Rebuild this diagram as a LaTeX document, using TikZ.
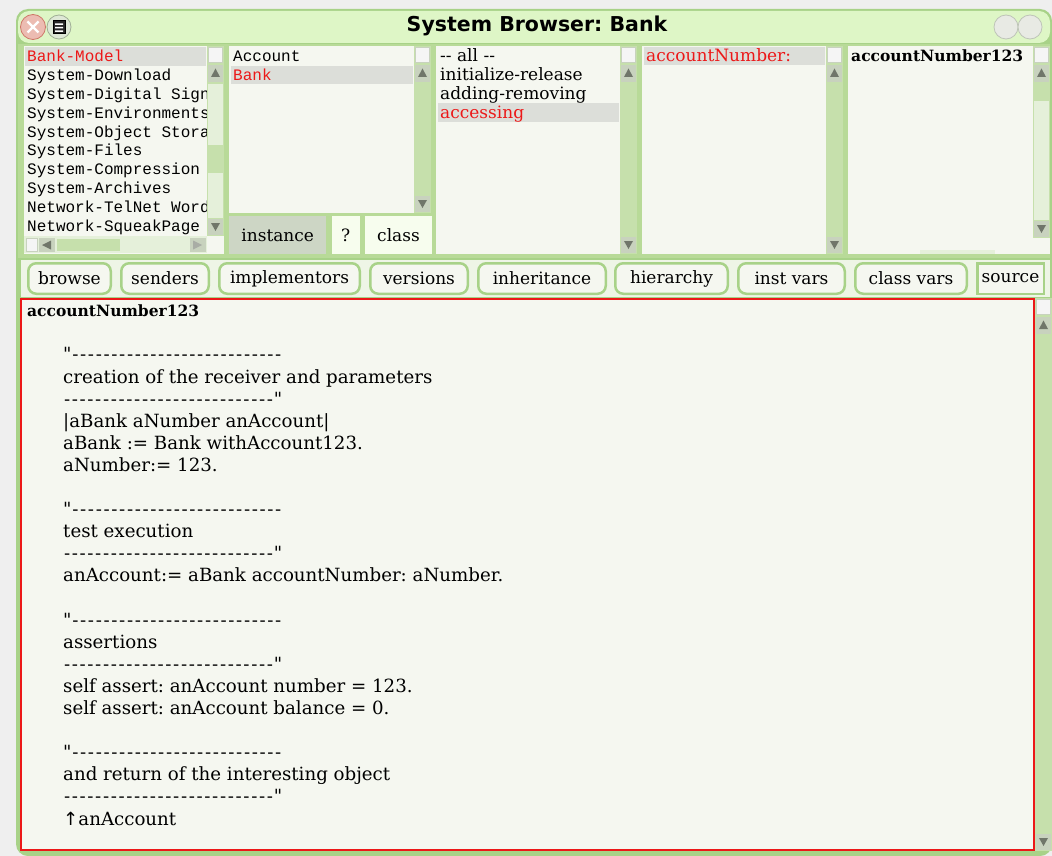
\documentclass[tikz,border=0pt]{standalone}
\usepackage{fontspec}
\usetikzlibrary{positioning}
\usepackage{xcolor}
\frenchspacing

\newfontfamily\uiface{DejaVu Serif}[Ligatures=TeXOff]
\newfontfamily\listface{Liberation Mono}
\newfontfamily\titleface{DejaVu Sans}
\newcommand{\uifont}{\uiface\fontsize{17}{19}\selectfont}
\newcommand{\codefont}{\uiface\fontsize{18.2}{22}\selectfont}
\newcommand{\boldfont}{\uiface\bfseries\fontsize{15.5}{18}\selectfont}
\newcommand{\listfont}{\listface\fontsize{16}{19}\selectfont}
% comment rule of the method source
\newcommand{\sepline}{\foreach\k in {1,...,27}{\makebox[7.8pt]{-}}}

\definecolor{outerbg}{RGB}{239,239,239}
\definecolor{framegreen}{RGB}{168,210,136}
\definecolor{titlegreen}{RGB}{222,246,198}
\definecolor{bodygreen}{RGB}{184,218,152}
\definecolor{panebg}{RGB}{245,247,240}
\definecolor{rowbg}{RGB}{238,245,230}
\definecolor{selgray}{RGB}{220,222,217}
\definecolor{bargreen}{RGB}{198,224,172}
\definecolor{trackgreen}{RGB}{229,240,218}
\definecolor{arrowbox}{RGB}{200,210,190}
\definecolor{arrowdark}{RGB}{112,118,106}
\definecolor{btngray}{RGB}{205,214,197}
\definecolor{togglebg}{RGB}{247,253,238}
\definecolor{hotred}{RGB}{236,24,24}

% vertical scroll bar: left x, top y, bottom y
\newcommand{\vscroll}[3]{%
  \fill[bargreen] (#1,#2) rectangle (#1+17,#3);
  \filldraw[fill=white!92!gray,draw=arrowbox] (#1+1.5,#2+1.5) rectangle (#1+15.5,#2+16);
  \fill[arrowbox] (#1+1,#2+19) rectangle (#1+16,#2+36);
  \fill[arrowdark] (#1+8.5,#2+22.5) -- (#1+4,#2+31) -- (#1+13,#2+31) -- cycle;
  \fill[arrowbox] (#1+1,#3-17) rectangle (#1+16,#3-1);
  \fill[arrowdark] (#1+8.5,#3-5) -- (#1+4,#3-13) -- (#1+13,#3-13) -- cycle;
}

\begin{document}
\begin{tikzpicture}[x=1pt,y=-1pt,
  item/.style={anchor=base west,inner sep=0pt,font=\listfont},
  entry/.style={anchor=base west,inner sep=0pt,font=\uifont},
  codeline/.style={anchor=base west,inner sep=0pt,font=\codefont},
  button/.style={draw=framegreen,line width=2.5pt,rounded corners=8pt,fill=panebg,
    minimum height=30.5pt,inner sep=0pt,font=\uifont},
  toggle/.style={minimum height=38pt,inner sep=0pt,font=\uifont},
  knob/.style={circle,minimum size=25pt,inner sep=0pt,line width=0.8pt}
]
  \useasboundingbox (0,0) rectangle (1052,856);
  \fill[outerbg] (0,0) rectangle (1052,856);

  % window frame and title bar
  \fill[framegreen,rounded corners=12pt] (16,9) rectangle (1052,856);
  \fill[titlegreen,rounded corners=11pt] (18,11) -- (18,43) -- (1050,43) -- (1050,11) -- cycle;
  \fill[bodygreen] (18,44) rectangle (1050,258);
  \fill[rowbg] (21,260) rectangle (1050,297);

  \node[knob,fill={rgb,255:red,236;green,188;blue,178},draw={rgb,255:red,206;green,118;blue,104}] (close) at (33,27) {};
  \draw[white,line width=2.4pt] (close.center) ++(-5.5,-5.5) -- ++(11,11)
    (close.center) ++(5.5,-5.5) -- ++(-11,11);
  \node[knob,minimum size=24pt,fill={rgb,255:red,222;green,232;blue,214},draw={rgb,255:red,160;green,176;blue,150}] (menu) at (59,27) {};
  \filldraw[fill=black!85,draw=black] (53,20.5) rectangle (65,33.5);
  \fill[white] (55,23.5) rectangle (63,25) (55,27) rectangle (63,28.5) (55,30.5) rectangle (63,32);
  \node[knob,minimum size=24pt,fill={rgb,255:red,232;green,234;blue,228},draw={rgb,255:red,190;green,196;blue,184}] (collapse) at (1006,27) {};
  \node[knob,minimum size=24pt,fill={rgb,255:red,232;green,234;blue,228},draw={rgb,255:red,190;green,196;blue,184}] (expand) at (1030,27) {};
  \node[font=\titleface\bfseries\fontsize{20.5}{24}\selectfont] (title) at (537,26) {System Browser: Bank};

  % five list panes
  \fill[panebg] (24,46) rectangle (224,254);
  \fill[panebg] (229,46) rectangle (431,213);
  \fill[panebg] (436,46) rectangle (637,254);
  \fill[panebg] (642,46) rectangle (843,254);
  \fill[panebg] (848,46) rectangle (1050,254);

  % categories
  \begin{scope}
    \clip (24,46) rectangle (207,236);
    \fill[selgray] (25,47) rectangle (206,66);
    \node[item,text=hotred] (cat0) at (27,62) {Bank-Model};
    \foreach \name [count=\i] in {System-Download,System-Digital Signatures,
        System-Environments,System-Object Storage,System-Files,System-Compression,
        System-Archives,Network-TelNet WordNet,Network-SqueakPage}
      \node[item] (cat\i) at (27,62+18.8*\i) {\name};
  \end{scope}
  \vscroll{207}{46}{236}
  \fill[trackgreen] (208,84) rectangle (223,218);
  \fill[bargreen] (208,145) rectangle (223,173);
  \fill[trackgreen] (24,236) rectangle (207,253);
  \filldraw[fill=white!92!gray,draw=arrowbox] (26,238.5) rectangle (37,251);
  \fill[arrowbox] (39,238) rectangle (55,252);
  \fill[arrowdark] (42,245) -- (51,240.5) -- (51,249.5) -- cycle;
  \fill[bargreen] (57,239) rectangle (120,251);
  \fill[arrowbox] (190,238) rectangle (206,252);
  \fill[arrowdark!60] (202,245) -- (193,240.5) -- (193,249.5) -- cycle;

  % classes
  \fill[selgray] (231,66) rectangle (413,84);
  \node[item] (cls0) at (233,62) {Account};
  \node[item,text=hotred] (cls1) at (233,80.8) {Bank};
  \vscroll{414}{46}{213}
  \node[toggle,fill=btngray,minimum width=97pt,anchor=north west] (inst) at (229,216) {instance};
  \node[toggle,fill=togglebg,minimum width=28pt,right=5pt of inst] (query) {?};
  \node[toggle,fill=togglebg,minimum width=67pt,right=5pt of query] (side) {class};

  % protocols
  \fill[selgray] (438,103) rectangle (619,122);
  \node[entry] (prot0) at (440,62) {-- all --};
  \node[entry] (prot1) at (440,80.8) {initialize-release};
  \node[entry] (prot2) at (440,99.6) {adding-removing};
  \node[entry,text=hotred] (prot3) at (440,118.4) {accessing};
  \vscroll{620}{46}{254}

  % selectors
  \fill[selgray] (644,47) rectangle (825,65);
  \node[entry,text=hotred] (sel0) at (646,62) {accountNumber:};
  \vscroll{826}{46}{254}

  % test methods
  \node[entry,font=\boldfont] (test0) at (851,62) {accountNumber123};
  \vscroll{1033}{46}{238}
  \fill[trackgreen] (1034,101) rectangle (1049,220);
  \fill[trackgreen] (920,250) rectangle (995,254);

  % button row
  \node[button,minimum width=82.5pt,anchor=west] (browse) at (27,278.5) {browse};
  \node[button,minimum width=87.5pt,right=8pt of browse] (senders) {senders};
  \node[button,minimum width=140.5pt,right=8pt of senders] (impl) {implementors};
  \node[button,minimum width=97.5pt,right=8pt of impl] (versions) {versions};
  \node[button,minimum width=127.5pt,right=8pt of versions] (inherit) {inheritance};
  \node[button,minimum width=112.5pt,right=7pt of inherit] (hier) {hierarchy};
  \node[button,minimum width=106.5pt,right=8pt of hier] (ivars) {inst vars};
  \node[button,minimum width=111.5pt,right=8pt of ivars] (cvars) {class vars};
  \node[button,rounded corners=0pt,minimum width=66.5pt,right=8pt of cvars] (source) {source};

  % method source
  \filldraw[fill=panebg,draw=hotred,line width=1.5pt] (21,299) rectangle (1034,850);
  \vscroll{1035}{298}{851}
  \node[codeline,font=\boldfont] (head) at (27,316) {accountNumber123};
  \foreach \ln [count=\i from 0] in {{"\sepline},{creation of the receiver and parameters},{\sepline"},
      {|aBank aNumber anAccount|},{aBank := Bank withAccount123.},{aNumber:= 123.},{},
      {"\sepline},{test execution},{\sepline"},{anAccount:= aBank accountNumber: aNumber.},{},
      {"\sepline},{assertions},{\sepline"},{self assert: anAccount number = 123.},
      {self assert: anAccount balance = 0.},{},
      {"\sepline},{and return of the interesting object},{\sepline"},{{\titleface ↑}anAccount}}
    \node[codeline] (ln\i) at (63,360.9+22.1*\i) {\ln};
\end{tikzpicture}
\end{document}
